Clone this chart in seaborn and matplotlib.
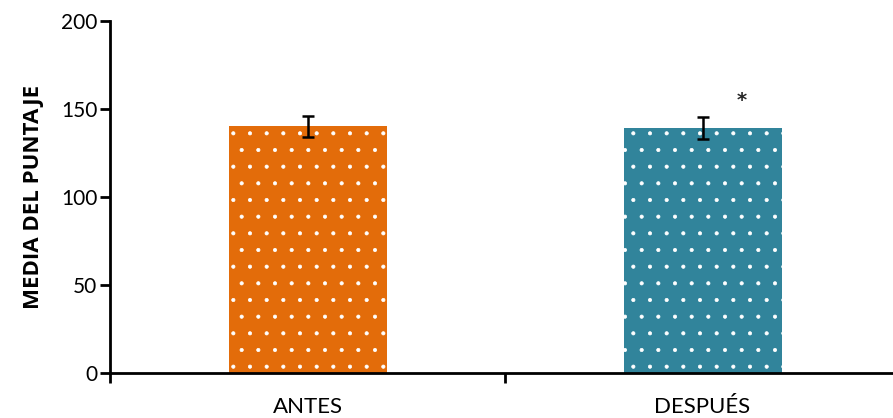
import matplotlib
matplotlib.use("Agg")
import matplotlib.pyplot as plt
import seaborn as sns
import pandas as pd

categories = ["ANTES", "DESPUÉS"]
means = [140.3, 139.2]
errors = [6.0, 6.5]
colors = ["#E36C0A", "#31849B"]
significance = ["", "*"]

sns.set_theme(style="white")
plt.rcParams['font.family'] = ['Lato', 'DejaVu Sans']
plt.rcParams['hatch.color'] = 'white'
plt.rcParams['hatch.linewidth'] = 0.5

df = pd.DataFrame({"cat": categories, "val": means})

fig = plt.figure(figsize=(8.93, 4.18), dpi=100)
ax = fig.add_axes([110/893, (418-373)/418, 790/893, (373-21)/418])

sns.barplot(data=df, x="cat", y="val", hue="cat", palette=colors, width=0.4,
            legend=False, ax=ax, errorbar=None, saturation=1)
for p in ax.patches:
    p.set_hatch('.')
    p.set_edgecolor('white')
    p.set_linewidth(0)

ax.errorbar(range(len(categories)), means, yerr=errors, fmt='none',
            ecolor='black', elinewidth=1.8, capsize=4.5, capthick=1.8)
for i, (m, e, s) in enumerate(zip(means, errors, significance)):
    if s:
        ax.text(i + 0.1, m + e + 4, s, ha='center', va='bottom', fontsize=14,
                fontweight='bold', family=['DejaVu Sans'])

ax.set_xlim(-0.5, 1.5)
ax.set_ylim(0, 200)
ax.set_yticks([0, 50, 100, 150, 200])
ax.set_xticks([-0.5, 0.5, 1.5], minor=False)
ax.set_xticklabels(["", "", ""])
ax.set_xticks([0, 1], minor=True)
ax.set_xticklabels(categories, minor=True)
ax.tick_params(axis='x', which='minor', bottom=True, length=0, labelsize=16,
               pad=17, labelcolor='black')
ax.tick_params(axis='x', which='major', bottom=True, length=7, width=2,
               direction='out', color='black')
ax.tick_params(axis='y', left=True, length=7, width=2, direction='out',
               color='black', labelsize=15, pad=2, labelcolor='black')
ax.set_xlabel("")
ax.set_ylabel("MEDIA DEL PUNTAJE", fontsize=16, fontweight='bold',
              labelpad=12, color='black', family=['Open Sans', 'DejaVu Sans'])
for side in ['top', 'right']:
    ax.spines[side].set_visible(False)
for side in ['left', 'bottom']:
    ax.spines[side].set_color('black')
    ax.spines[side].set_linewidth(2)

fig.savefig("out.png", dpi=100)
